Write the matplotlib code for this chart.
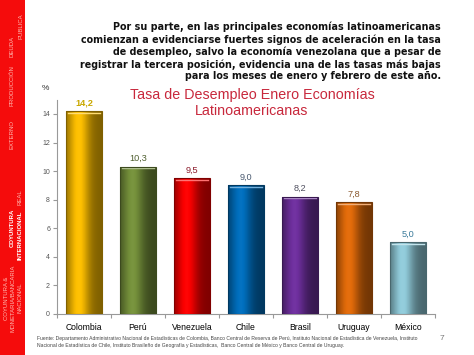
import numpy as np
import matplotlib
matplotlib.use("Agg")
import matplotlib.pyplot as plt
from matplotlib.patches import Rectangle
from matplotlib.colors import to_rgb

# chart data
paises = ["Colombia", "Perú", "Venezuela", "Chile", "Brasil", "Uruguay", "México"]
tasas = [14.2, 10.3, 9.5, 9.0, 8.2, 7.8, 5.0]
etiquetas = ["14,2", "10,3", "9,5", "9,0", "8,2", "7,8", "5,0"]
colores = ["#FFC000", "#77933C", "#FF0000", "#0070C0", "#7030A0", "#E46C0A", "#92CDDC"]
colores_txt = ["#C9A800", "#4F5F2F", "#8B1A2A", "#4A5A70", "#505060", "#8A5A30", "#3A7A9A"]
yticks = [0, 2, 4, 6, 8, 10, 12, 14]

titulo = "Tasa de Desempleo Enero Economías\nLatinoamericanas"
parrafo = ("Por su parte, en las principales economías latinoamericanas\n"
           "comienzan a evidenciarse fuertes signos de aceleración en la tasa\n"
           "de desempleo, salvo la economía venezolana que a pesar de\n"
           "registrar la tercera posición, evidencia una de las tasas más bajas\n"
           "para los meses de enero y febrero de este año.")
fuente = ("Fuente: Departamento Administrativo Nacional de Estadísticas de Colombia, Banco Central de Reserva de Perú, "
          "Instituto Nacional de Estadística de Venezuela, Instituto\n"
          "Nacional de Estadística de Chile, Instituto Brasileño de Geografía y Estadísticas,  "
          "Banco Central de México y Banco Central de Uruguay.")

# sidebar menu: (text, x px, y px center, bold)
menu = [("PUBLICA", 21, 26, False), ("DEUDA", 12, 46, False),
        ("PRODUCCIÓN", 12, 86, False), ("EXTERNO", 12, 135, False),
        ("REAL", 20, 197, False), ("COYUNTURA", 12, 228, True),
        ("INTERNACIONAL", 20, 235, True),
        ("COYUNTURA &", 7, 298, False), ("MONETARIA/BANCARIA", 13, 298, False),
        ("NACIONAL", 20, 298, False)]

W, H = 474, 355
fig = plt.figure(figsize=(W / 100, H / 100), dpi=100)
plt.rcParams['font.family'] = ['Liberation Sans', 'DejaVu Sans']

# red sidebar
fig.patches.append(Rectangle((0, 0), 25 / W, 1, transform=fig.transFigure,
                             facecolor="#F50C0C", edgecolor="none", zorder=0))
for txt, x, y, bold in menu:
    fig.text(x / W, 1 - y / H, txt, rotation=90, ha="center", va="center",
             fontsize=4.3, color="white" if bold else "#FFB8B0",
             fontweight="bold" if bold else "normal")

# paragraph
fig.text(441 / W, 1 - 22 / H, parrafo, ha="right", va="top", fontsize=6.95,
         fontweight="bold", family="DejaVu Sans", linespacing=1.22, color="#111111")

ax = fig.add_axes([57 / W, 1 - 313.7 / H, (435 - 57) / W, (313.7 - 99.7) / H])
x = np.arange(len(paises))
barras = ax.bar(x, tasas, width=0.65, color=colores, edgecolor="none", zorder=2)

# cylinder-like shading
prof = np.linspace(0, 1, 60)
shade = 0.5 + 0.52 * np.exp(-((prof - 0.35) / 0.3) ** 2)
for b, c in zip(barras, colores):
    base = np.array(to_rgb(c))
    img = np.zeros((2, len(prof), 3))
    for i, s in enumerate(shade):
        if s <= 1:
            col = base * s
        else:
            col = base + (1 - base) * (s - 1)
        img[:, i, :] = col
    x0 = b.get_x()
    x1 = x0 + b.get_width()
    im = ax.imshow(img, extent=(x0, x1, 0, b.get_height()), aspect="auto",
                   zorder=3, interpolation="bilinear")
    im.set_clip_path(b)
    ax.plot([x0 + 0.03, x1 - 0.03], [b.get_height() - 0.12] * 2,
            color=base + (1 - base) * 0.45, lw=1, zorder=4)
    ax.add_patch(Rectangle((x0, 0), b.get_width(), b.get_height(), fill=False,
                           edgecolor=base * 0.5, lw=0.8, zorder=5))

for xi, v, lab, c in zip(x, tasas, etiquetas, colores_txt):
    ax.annotate(lab, (xi, v), xytext=(0, 2.5), textcoords="offset points",
                ha="center", va="bottom", fontsize=6.6, color=c,
                fontweight="bold" if xi == 0 else "normal")

ax.set_xlim(-0.5, len(paises) - 0.5)
ax.set_ylim(0, 15)
ax.set_yticks(yticks)
ax.set_yticklabels([str(t) for t in yticks], fontsize=5, color="#555555")
ax.set_xticks(np.arange(len(paises) + 1) - 0.5)
ax.set_xticklabels([])
ax.set_xticks(x, minor=True)
ax.set_xticklabels(paises, minor=True, fontsize=6.2, color="#000000")
ax.tick_params(axis="x", which="minor", length=0, pad=7)
ax.tick_params(axis="x", which="major", length=3, color="#999999")
ax.tick_params(axis="y", length=3, color="#999999", pad=2)
for s in ["top", "right"]:
    ax.spines[s].set_visible(False)
for s in ["left", "bottom"]:
    ax.spines[s].set_color("#999999")
    ax.spines[s].set_linewidth(0.8)

fig.text(45 / W, 1 - 89 / H, "%", ha="center", va="center", fontsize=6, color="#333333")
fig.text(252 / W, 1 - 103 / H, titulo, ha="center", va="center", fontsize=10.3,
         color="#C8283C", linespacing=1.25)

fig.text(37 / W, 1 - 336 / H, fuente, ha="left", va="top", fontsize=3.65,
         color="#444444", linespacing=1.5)
fig.text(442 / W, 1 - 338 / H, "7", ha="center", va="center", fontsize=6, color="#777777")

fig.savefig("out.png", dpi=100)
